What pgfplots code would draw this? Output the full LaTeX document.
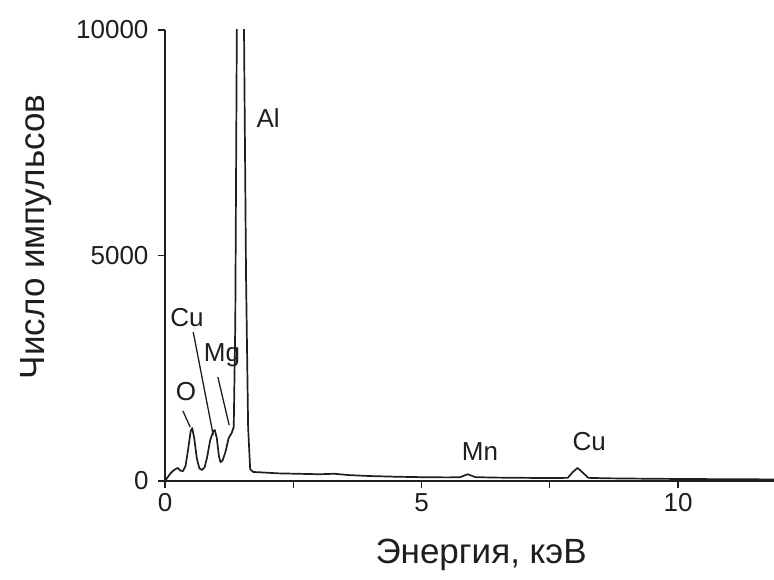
\documentclass[border=0pt]{standalone}
\usepackage{fontspec}
\setmainfont{Liberation Sans}
\usepackage{pgfplots}
\pgfplotsset{compat=1.18}
\usetikzlibrary{calc}
\definecolor{ink}{HTML}{1E1E1E}

\begin{document}
\begin{tikzpicture}
\begin{axis}[
  scale only axis,
  width=609pt, height=451pt,
  xmin=0, xmax=11.87,
  ymin=0, ymax=10000,
  axis lines=left,
  axis line style={-, ink, line width=1.5pt},
  tick align=outside,
  major tick length=7pt,
  tick style={ink, line width=1.2pt},
  xtick={0,2.5,5,7.5,10},
  xticklabels={0,,5,,10},
  ytick={0,5000,10000},
  yticklabels={0,5000,10000},
  scaled y ticks=false,
  /pgf/number format/assume math mode=true,
  tick label style={font=\fontsize{26}{30}\selectfont, text=ink},
  yticklabel style={xshift=-6pt},
  xticklabel style={yshift=-2pt},
  xlabel={Энергия, кэВ},
  ylabel={Число импульсов},
  label style={font=\fontsize{35}{40}\selectfont, text=ink},
  xlabel style={at={(axis description cs:0.519,-0.164)}, anchor=center},
  ylabel style={at={(axis description cs:-0.212,0.541)}, anchor=center},
  clip=true,
]
\addplot[ink, line width=1.7pt, line join=round] coordinates {
  (0.00,0) (0.05,80) (0.10,160) (0.15,220) (0.20,260) (0.25,290) (0.30,230)
  (0.35,220) (0.40,330) (0.45,700) (0.50,1100) (0.53,1175) (0.57,950)
  (0.62,500) (0.67,280) (0.72,245) (0.77,300) (0.82,520) (0.88,900)
  (0.94,1100) (0.97,1130) (1.01,950) (1.05,560) (1.08,420) (1.12,450)
  (1.18,650) (1.24,950) (1.30,1065) (1.34,1200) (1.37,3500) (1.40,10000)
  (1.47,60000) (1.54,10000) (1.58,4500) (1.62,1200) (1.66,260) (1.72,200)
  (1.9,190) (2.2,170) (2.6,160) (3.0,150) (3.3,160) (3.6,130) (4.0,110)
  (4.5,95) (5.0,85) (5.5,80) (5.75,85) (5.9,150) (6.05,85) (6.5,75)
  (7.0,70) (7.5,65) (7.85,70) (7.95,200) (8.04,290) (8.13,200) (8.25,70)
  (8.6,60) (9.0,55) (9.5,50) (10.0,45) (11.0,40) (11.87,35)
};
% element labels and leader lines
\node[font=\fontsize{26}{30}\selectfont, text=ink] at (axis cs:2.01,8050) {Al};
\node[font=\fontsize{26}{30}\selectfont, text=ink] at (axis cs:0.43,3614) {Cu};
\node[font=\fontsize{26}{30}\selectfont, text=ink] at (axis cs:1.11,2793) {Mg};
\node[font=\fontsize{26}{30}\selectfont, text=ink] at (axis cs:0.41,1973) {O};
\node[font=\fontsize{26}{30}\selectfont, text=ink] at (axis cs:6.14,643) {Mn};
\node[font=\fontsize{26}{30}\selectfont, text=ink] at (axis cs:8.27,865) {Cu};
\draw[ink, line width=1.3pt] (axis cs:0.55,3303) -- (axis cs:0.94,1020);
\draw[ink, line width=1.3pt] (axis cs:1.03,2306) -- (axis cs:1.25,1241);
\draw[ink, line width=1.3pt] (axis cs:0.35,1552) -- (axis cs:0.49,1197);
\coordinate (sw) at (rel axis cs:0,0);
\coordinate (ne) at (rel axis cs:1,1);
\end{axis}
\pgfresetboundingbox
\path[use as bounding box] ($(sw)+(-165pt,-98pt)$) rectangle ($(ne)+(0pt,30pt)$);
\end{tikzpicture}
\end{document}
